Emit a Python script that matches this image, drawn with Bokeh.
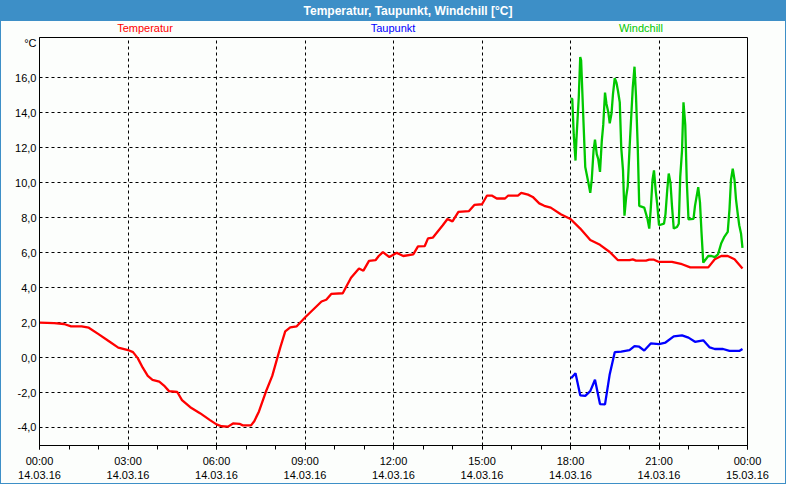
from bokeh.plotting import figure
from bokeh.models import Range1d, FixedTicker, Div
from bokeh.layouts import column
from bokeh.embed import file_html
from bokeh.resources import INLINE

# ---- data (hours since 14.03.16 00:00, °C) ----
temp_h = [0.0, 0.5, 0.83, 1.07, 1.43, 1.67, 2.0, 2.33, 2.67, 3.0, 3.17, 3.33, 3.5, 3.67, 3.83,
          4.06, 4.22, 4.39, 4.67, 4.83, 5.11, 5.44, 5.78, 6.0, 6.17, 6.39, 6.56, 6.78, 6.89,
          7.17, 7.28, 7.44, 7.67, 7.89, 8.06, 8.17, 8.33, 8.5, 8.72, 9.0, 9.56, 9.72, 9.89,
          10.28, 10.56, 10.83, 10.98, 11.17, 11.39, 11.5, 11.64, 11.86, 12.11, 12.33, 12.67,
          12.83, 13.06, 13.17, 13.33, 13.67, 13.83, 14.0, 14.2, 14.56, 14.74, 15.0, 15.17,
          15.33, 15.5, 15.78, 15.89, 16.22, 16.33, 16.56, 16.72, 16.94, 17.11, 17.33, 17.67,
          18.0, 18.33, 18.67, 19.0, 19.33, 19.61, 20.0, 20.11, 20.22, 20.56, 20.67, 20.83,
          21.0, 21.44, 21.78, 22.06, 22.67, 22.89, 23.11, 23.33, 23.56, 23.83]
temp_v = [2.0, 1.97, 1.92, 1.79, 1.79, 1.71, 1.34, 0.96, 0.57, 0.43, 0.31, -0.03, -0.58, -1.05, -1.27,
          -1.38, -1.6, -1.92, -1.97, -2.43, -2.84, -3.18, -3.58, -3.82, -3.93, -3.95, -3.77, -3.79, -3.88,
          -3.88, -3.64, -3.08, -1.97, -1.05, -0.03, 0.62, 1.5, 1.73, 1.79, 2.29, 3.21, 3.31, 3.64,
          3.68, 4.57, 5.10, 4.97, 5.53, 5.57, 5.81, 6.03, 5.75, 5.99, 5.81, 5.90,
          6.36, 6.38, 6.82, 6.86, 7.57, 7.93, 7.79, 8.34, 8.38, 8.73, 8.77, 9.27,
          9.27, 9.10, 9.10, 9.27, 9.27, 9.42, 9.32, 9.19, 8.82, 8.68, 8.58, 8.20,
          7.93, 7.38, 6.73, 6.45, 6.04, 5.57, 5.57, 5.62, 5.55, 5.55, 5.60, 5.60,
          5.47, 5.47, 5.34, 5.16, 5.16, 5.62, 5.81, 5.81, 5.62, 5.10]

dew_h = [18.02, 18.17, 18.33, 18.5, 18.67, 18.83, 19.0, 19.17, 19.33, 19.5, 19.72, 20.0, 20.17,
         20.33, 20.5, 20.72, 21.0, 21.22, 21.5, 21.78, 22.0, 22.22, 22.5, 22.72, 22.89, 23.17,
         23.39, 23.72, 23.83]
dew_v = [-1.18, -0.9, -2.16, -2.19, -1.92, -1.27, -2.66, -2.68, -0.95, 0.31, 0.34, 0.43, 0.66,
         0.62, 0.40, 0.81, 0.77, 0.86, 1.21, 1.27, 1.14, 0.90, 0.99, 0.58, 0.49, 0.49,
         0.38, 0.38, 0.49]

wc_h = [18.0, 18.06, 18.11, 18.17, 18.2, 18.28, 18.33, 18.36, 18.44, 18.5, 18.61, 18.67, 18.72,
        18.78, 18.83, 18.89, 18.94, 19.0, 19.06, 19.11, 19.17, 19.22, 19.28, 19.33, 19.39,
        19.44, 19.5, 19.56, 19.61, 19.67, 19.72, 19.78, 19.83, 19.89, 19.94, 20.0, 20.11,
        20.17, 20.22, 20.28, 20.33, 20.5, 20.61, 20.67, 20.72, 20.78, 20.83, 20.89, 20.94,
        21.0, 21.17, 21.22, 21.28, 21.33, 21.39, 21.44, 21.5, 21.61, 21.67, 21.72, 21.78,
        21.83, 21.89, 21.94, 22.0, 22.17, 22.22, 22.33, 22.39, 22.44, 22.5, 22.67, 22.78,
        22.89, 23.0, 23.11, 23.22, 23.33, 23.39, 23.44, 23.5, 23.56, 23.61, 23.67, 23.72,
        23.78, 23.83]
wc_v = [14.82, 14.8, 12.75, 11.27, 12.47, 14.88, 17.19, 17.0, 13.49, 10.9, 9.97, 9.42, 10.16,
        11.82, 12.47, 11.64, 11.36, 10.62, 12.38, 13.31, 15.16, 14.51, 14.05, 13.40, 13.96,
        15.07, 15.99, 15.71, 15.25, 14.60, 12.01, 10.71, 8.12, 9.23, 9.79, 11.92, 15.43,
        16.64, 14.97, 12.01, 8.68, 8.58, 7.93, 7.38, 8.49, 10.16, 10.71, 9.51, 8.77,
        7.57, 7.66, 8.21, 9.60, 10.53, 9.97, 8.68, 7.38, 7.47, 7.66, 10.34, 11.82,
        14.60, 13.31, 10.16, 7.90, 7.93, 8.68, 9.75, 8.86, 7.19, 5.43, 5.81, 5.81,
        5.75, 5.90, 6.54, 6.92, 7.19, 8.49, 10.16, 10.81, 10.16, 9.05, 8.21, 7.57,
        7.10, 6.27]

x_ticks = [0, 3, 6, 9, 12, 15, 18, 21, 24]
x_labels = ["00:00\n14.03.16", "03:00\n14.03.16", "06:00\n14.03.16", "09:00\n14.03.16",
            "12:00\n14.03.16", "15:00\n14.03.16", "18:00\n14.03.16", "21:00\n14.03.16",
            "00:00\n15.03.16"]
x_minor = list(range(0, 25))
y_ticks = [-4, -2, 0, 2, 4, 6, 8, 10, 12, 14, 16]
unit_tick = 18.0
series_names = ["Temperatur", "Taupunkt", "Windchill"]
series_colors = ["#FF0000", "#0000FF", "#00C800"]
title_text = "Temperatur, Taupunkt, Windchill [°C]"
unit_text = "°C"

FONT = "Liberation Sans"
BG = "#FCFEFC"
BLUE = "#3D8FC7"
Y0, Y1 = -5.03, 18.31
W = 784

title_div = Div(
    text=('<div style="box-sizing:border-box;width:784px;height:20px;padding-left:30px;'
          'text-align:center;white-space:nowrap;overflow:hidden;">'
          + title_text + '</div>'),
    width=W, height=20, margin=0,
    styles={"background-color": BLUE, "color": "white", "font-family": FONT,
            "font-weight": "bold", "font-size": "12px", "line-height": "20px",
            "overflow": "hidden"})

legend_html = ('<div style="box-sizing:border-box;width:784px;height:15px;padding-left:20px;'
               'white-space:nowrap;overflow:hidden;">' + "".join(
    f'<span style="display:inline-block;width:248px;text-align:center;color:{c};">{n}</span>'
    for n, c in zip(series_names, series_colors)) + '</div>')
legend_div = Div(text=legend_html, width=W, height=15, margin=0,
                 styles={"background-color": BG, "font-family": FONT,
                         "font-size": "11px", "line-height": "15px",
                         "overflow": "hidden"})

p = figure(width=W, height=447, output_backend="svg", toolbar_location=None,
           x_range=Range1d(0, 24), y_range=Range1d(Y0, Y1),
           min_border_left=38, min_border_right=38, min_border_top=1, min_border_bottom=36,
           background_fill_color=BG, border_fill_color=BG, margin=0)
p.outline_line_color = "black"
p.outline_line_width = 1

# x axis
p.xaxis.ticker = FixedTicker(ticks=x_ticks, minor_ticks=x_minor)
p.xaxis.major_label_overrides = dict(zip(x_ticks, x_labels))
p.xaxis.major_tick_in = 0
p.xaxis.major_tick_out = 4
p.xaxis.minor_tick_in = 0
p.xaxis.minor_tick_out = 4
p.xaxis.major_tick_line_color = "black"
p.xaxis.minor_tick_line_color = "black"
p.xaxis.axis_line_color = "black"
p.xaxis.major_label_standoff = 5

# y axis (the unit sits as a label at the top)
p.yaxis.ticker = FixedTicker(ticks=y_ticks + [unit_tick], minor_ticks=[])
overrides = {t: f"{t},0" for t in y_ticks}
overrides[unit_tick] = unit_text
p.yaxis.major_label_overrides = overrides
p.yaxis.major_tick_in = 0
p.yaxis.major_tick_out = 0
p.yaxis.minor_tick_in = 0
p.yaxis.minor_tick_out = 0
p.yaxis.axis_line_color = "black"
p.yaxis.major_label_standoff = 3

for ax in (p.xaxis, p.yaxis):
    ax.major_label_text_font = FONT
    ax.major_label_text_font_size = "11px"
    ax.major_label_text_color = "black"

for g in (p.xgrid, p.ygrid):
    g.grid_line_color = "black"
    g.grid_line_dash = "3 3"
    g.grid_line_width = 1
    g.grid_line_alpha = 1.0
p.xgrid.ticker = FixedTicker(ticks=x_ticks)
p.ygrid.ticker = FixedTicker(ticks=y_ticks)

# lines
p.line(temp_h, temp_v, line_color=series_colors[0], line_width=2.3)
p.line(dew_h, dew_v, line_color=series_colors[1], line_width=2.3)
p.line(wc_h, wc_v, line_color=series_colors[2], line_width=2.3)

layout = column(title_div, legend_div, p, spacing=0,
                styles={"border": "1px solid " + BLUE, "background-color": BG})

open("out.html", "w").write(file_html(layout, INLINE))
